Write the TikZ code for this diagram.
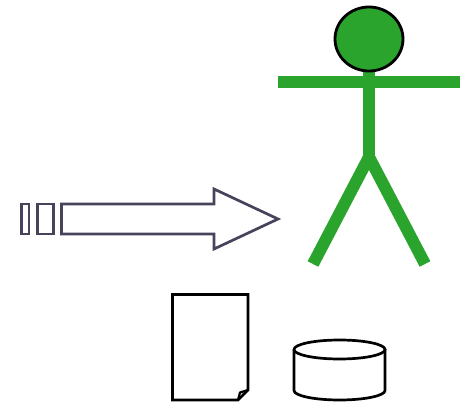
\documentclass[tikz,border=0pt]{standalone}
\definecolor{figgreen}{HTML}{2AA42D}
\definecolor{arrowink}{HTML}{46445A}
\tikzset{
  limb/.style={draw=figgreen,line width=12pt,line cap=butt,line join=miter},
  blockink/.style={draw=arrowink,line width=2.7pt,line join=miter},
  shapeink/.style={draw=black,line width=2.7pt,line join=miter}
}
\begin{document}
\begin{tikzpicture}[x=1pt,y=-1pt]
\useasboundingbox (0,0) rectangle (462,403);
% figure
\draw[limb] (369,70) -- (369,157);
\draw[limb] (278,82) -- (460,82);
\draw[limb] (313,264) -- (369,157) -- (425,264);
\draw[draw=black,line width=2.8pt,fill=figgreen] (369,39) ellipse [x radius=34,y radius=32];
% block arrow
\draw[blockink] (21.5,204) rectangle (29,234);
\draw[blockink] (37.5,204) rectangle (53.5,234);
\draw[blockink] (61.5,204) -- (214,204) -- (214,189) -- (278,219) -- (214,249) -- (214,234) -- (61.5,234) -- cycle;
% document
\draw[shapeink] (172.5,294.5) -- (248,294.5) -- (248,390) -- (238,400) -- (172.5,400) -- cycle;
\draw[shapeink,line width=2.2pt,line join=round] (248,390) -- (240,392.5) -- (238,400);
% cylinder
\draw[shapeink] (339.5,349.5) ellipse [x radius=45.5,y radius=9.5];
\draw[shapeink,line join=round] (294,349.5) -- (294,390.5) arc [start angle=180,end angle=360,x radius=45.5,y radius=-9.5] -- (385,349.5);
\end{tikzpicture}
\end{document}
